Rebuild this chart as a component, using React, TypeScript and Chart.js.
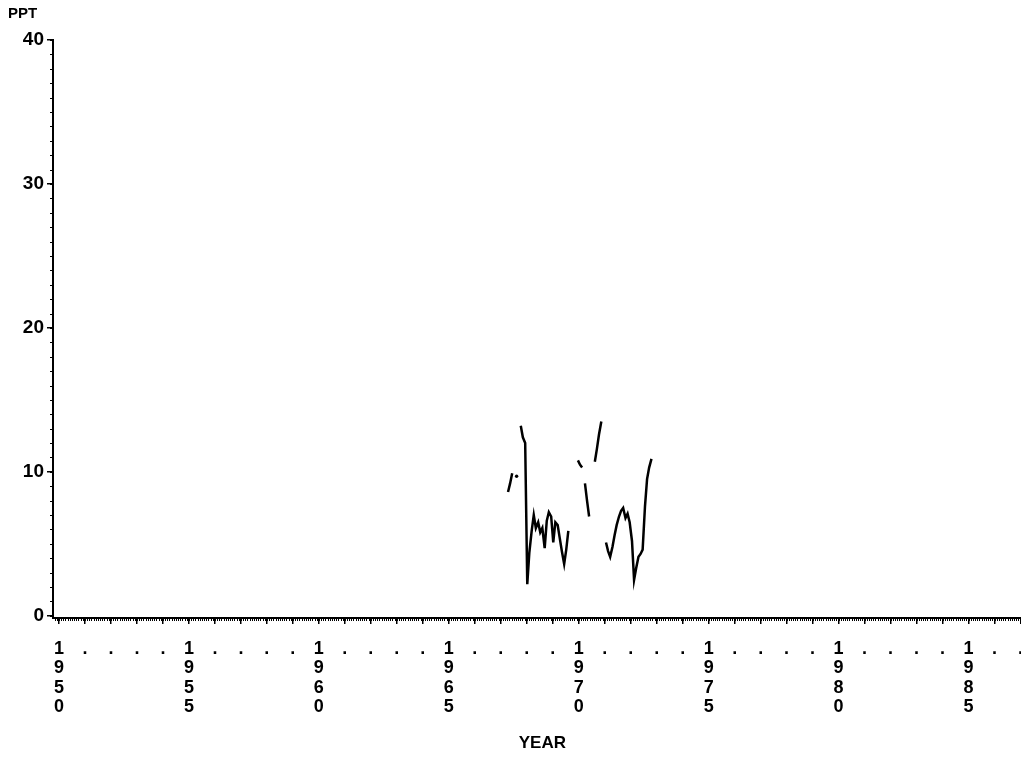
import { useEffect, useRef } from "react";
import { Chart, registerables } from "chart.js";

Chart.register(...registerables);

// Observation dates (decimal years) and PPT values; null = gap in the record
const obsYears = [
  1967.28, 1967.36, 1967.44, 1967.52, 1967.61, 1967.69,
  1967.77, 1967.85, 1967.94, 1968.02, 1968.10, 1968.19, 1968.27, 1968.35, 1968.44, 1968.52,
  1968.60, 1968.69, 1968.77, 1968.85, 1968.94, 1969.02, 1969.10, 1969.19, 1969.27, 1969.35,
  1969.44, 1969.52, 1969.60, 1969.69,
  1969.97, 1970.05, 1970.13, 1970.18,
  1970.24, 1970.32, 1970.40, 1970.50,
  1970.62, 1970.70, 1970.78, 1970.87, 1970.95,
  1971.05, 1971.13, 1971.21, 1971.30, 1971.38, 1971.46, 1971.55, 1971.63, 1971.71, 1971.80,
  1971.88, 1971.96, 1972.05, 1972.13, 1972.21, 1972.30, 1972.38, 1972.46, 1972.55, 1972.63,
  1972.71, 1972.80,
];
const pptValues: (number | null)[] = [
  8.6, 9.2, 9.9, null, 9.7, null,
  13.2, 12.4, 12.0, 2.2, 4.4, 5.9, 7.0, 6.1, 6.5, 5.8,
  6.1, 4.7, 6.6, 7.2, 6.9, 5.1, 6.5, 6.3, 5.4, 4.5,
  3.6, 4.6, 5.9, null,
  10.8, 10.5, 10.3, null,
  9.2, 8.0, 6.9, null,
  10.7, 11.6, 12.6, 13.5, null,
  5.1, 4.5, 4.1, 4.8, 5.6, 6.3, 6.9, 7.3, 7.5, 6.8,
  7.1, 6.5, 5.2, 2.5, 3.3, 4.1, 4.3, 4.6, 7.6, 9.5,
  10.3, 10.9,
];

const labeledYears = [1950, 1955, 1960, 1965, 1970, 1975, 1980, 1985];
const yTickValues = [0, 10, 20, 30, 40];
const xMin = 1949.77;
const xMax = 1987.43;
const yMin = -0.15;
const yMax = 40;

const FONT = "'Liberation Sans', Arial, sans-serif";

const minorTicks = {
  id: "minorTicks",
  afterDraw(chart: any) {
    const { ctx, scales } = chart;
    const x = scales.x;
    const y = scales.y;
    ctx.save();
    ctx.strokeStyle = "#000";
    ctx.lineWidth = 1;
    ctx.beginPath();
    for (let m = Math.ceil(x.min * 12); m / 12 <= x.max; m++) {
      const px = Math.round(x.getPixelForValue(m / 12)) + 0.5;
      ctx.moveTo(px, x.top);
      ctx.lineTo(px, x.top + 3);
    }
    for (let v = Math.ceil(y.min); v <= y.max; v++) {
      const py = Math.round(y.getPixelForValue(v)) + 0.5;
      ctx.moveTo(y.right - 3, py);
      ctx.lineTo(y.right, py);
    }
    ctx.stroke();
    ctx.restore();
  },
};

export default function App() {
  const ref = useRef<HTMLCanvasElement | null>(null);

  useEffect(() => {
    if (!ref.current) return;
    const points = obsYears.map((t, i) => ({ x: t, y: pptValues[i] }));
    const chart = new Chart(ref.current, {
      type: "line",
      data: {
        datasets: [
          {
            data: points as any,
            borderColor: "#000",
            backgroundColor: "#000",
            borderWidth: 2.5,
            tension: 0,
            spanGaps: false,
            pointRadius: (c: any) => {
              const i = c.dataIndex;
              const prev = i > 0 ? pptValues[i - 1] : null;
              const next = i < pptValues.length - 1 ? pptValues[i + 1] : null;
              return pptValues[i] !== null && prev === null && next === null ? 1.7 : 0;
            },
            pointBorderWidth: 0,
          },
        ],
      },
      options: {
        animation: false,
        responsive: false,
        devicePixelRatio: 1,
        layout: { padding: { left: 8, top: 0, right: 0, bottom: 0 } },
        plugins: {
          legend: { display: false },
          tooltip: { enabled: false },
          title: {
            display: true,
            text: "PPT",
            align: "start",
            color: "#000",
            font: { family: FONT, size: 15, weight: "bold", lineHeight: 1.2 },
            padding: { top: 5, bottom: 17 },
          },
        },
        scales: {
          x: {
            type: "linear",
            min: xMin,
            max: xMax,
            afterFit: (s: any) => {
              s.height = 140;
            },
            grid: {
              drawOnChartArea: false,
              drawTicks: true,
              tickLength: 6,
              color: "#000",
              lineWidth: 1.5,
            },
            border: { display: true, color: "#000", width: 2 },
            ticks: {
              stepSize: 1,
              includeBounds: false,
              autoSkip: false,
              maxRotation: 0,
              minRotation: 0,
              padding: 15,
              color: "#000",
              font: { family: FONT, size: 18, weight: "bold", lineHeight: 1.083 },
              callback: (v: any) => {
                const yr = Math.round(Number(v));
                return labeledYears.includes(yr) ? String(yr).split("") : ".";
              },
            },
            title: {
              display: true,
              text: "YEAR",
              color: "#000",
              font: { family: FONT, size: 17, weight: "bold", lineHeight: 1.2 },
              padding: { top: 0, bottom: 4 },
            },
          },
          y: {
            type: "linear",
            min: yMin,
            max: yMax,
            afterFit: (s: any) => {
              s.width = 45;
            },
            afterBuildTicks: (s: any) => {
              s.ticks = yTickValues.map((v) => ({ value: v }));
            },
            grid: {
              drawOnChartArea: false,
              drawTicks: true,
              tickLength: 6,
              color: "#000",
              lineWidth: 1.5,
            },
            border: { display: true, color: "#000", width: 2 },
            ticks: {
              autoSkip: false,
              padding: 3,
              color: "#000",
              font: { family: FONT, size: 19, weight: "bold" },
              callback: (v: any) => String(Math.round(Number(v))),
            },
          },
        },
      },
      plugins: [minorTicks],
    });
    return () => chart.destroy();
  }, []);

  return (
    <div
      style={{
        position: "fixed",
        left: 0,
        top: 0,
        width: 1021,
        height: 758,
        overflow: "hidden",
        background: "#fff",
      }}
    >
      <canvas ref={ref} width={1038} height={758} style={{ display: "block" }} />
    </div>
  );
}
